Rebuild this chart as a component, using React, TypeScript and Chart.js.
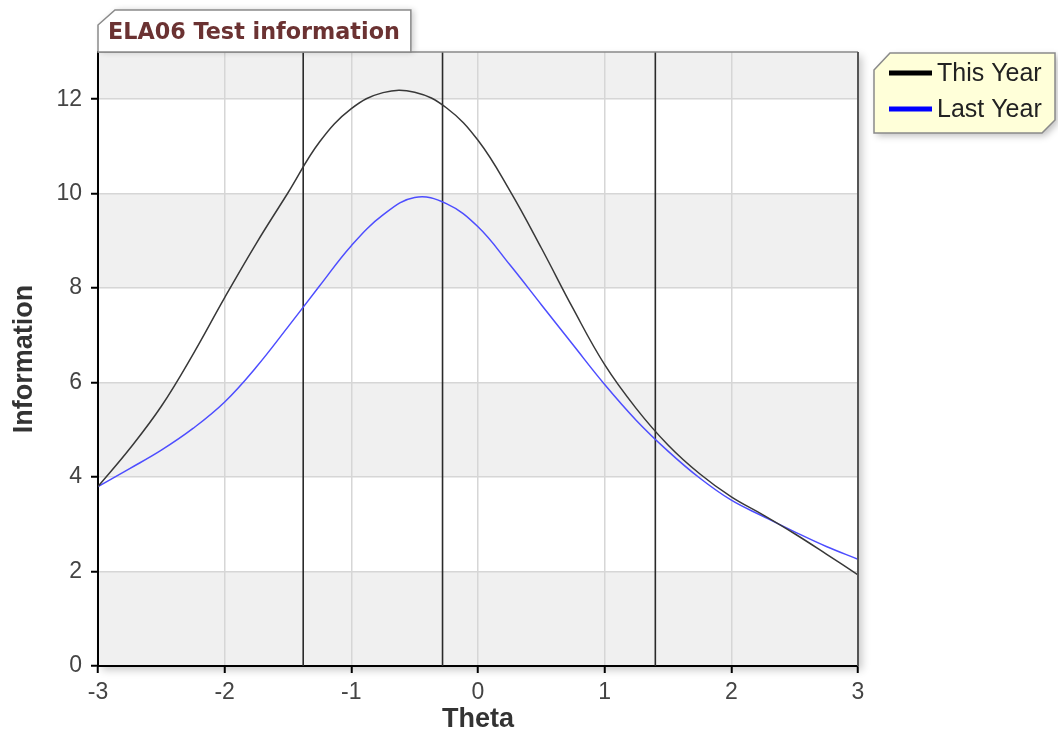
import { useEffect, useRef } from 'react';
import { Chart, registerables } from 'chart.js';

Chart.register(...registerables);

const chartTitle = 'ELA06 Test information';
const xTitle = 'Theta';
const yTitle = 'Information';
const seriesNames = ['This Year', 'Last Year'];
const seriesColors = ['#383838', '#4d4dff'];
const legendColors = ['#000000', '#0000ff'];

const thetaPoints = [
  -3, -2.75, -2.5, -2.25, -2, -1.75, -1.5, -1.25, -1, -0.75, -0.5, -0.25,
  0, 0.25, 0.5, 0.75, 1, 1.25, 1.5, 1.75, 2, 2.25, 2.5, 2.75, 3,
];
const thisYear = [
  3.8, 4.6, 5.5, 6.6, 7.8, 8.95, 10.02, 11.1, 11.8, 12.14, 12.15, 11.82,
  11.13, 10.07, 8.85, 7.57, 6.38, 5.45, 4.68, 4.07, 3.58, 3.2, 2.8, 2.37, 1.93,
];
const lastYear = [
  3.8, 4.18, 4.57, 5.03, 5.59, 6.33, 7.18, 8.05, 8.9, 9.55, 9.92, 9.79,
  9.3, 8.5, 7.65, 6.8, 5.96, 5.2, 4.55, 3.98, 3.51, 3.17, 2.84, 2.53, 2.26,
];
const cutScores = [-1.38, -0.28, 1.4];

const xMin = -3;
const xMax = 3;
const xStep = 1;
const yMin = 0;
const yMax = 13;
const yStep = 2;
const yTickMax = 12;

const backgroundPlugin = {
  id: 'bgBands',
  beforeDraw(chart: any) {
    const { ctx, chartArea: a, scales } = chart;
    const y = scales.y;
    ctx.save();
    ctx.fillStyle = '#ffffff';
    ctx.fillRect(0, 0, chart.width, chart.height);
    ctx.shadowColor = 'rgba(0,0,0,0.22)';
    ctx.shadowBlur = 8;
    ctx.shadowOffsetX = 4;
    ctx.shadowOffsetY = 4;
    ctx.fillRect(a.left, a.top, a.right - a.left, a.bottom - a.top);
    ctx.restore();
    ctx.save();
    let i = 0;
    for (let v = yMin; v < yMax; v += yStep) {
      const top = y.getPixelForValue(Math.min(v + yStep, yMax));
      const bot = y.getPixelForValue(v);
      ctx.fillStyle = i % 2 === 0 ? '#f0f0f0' : '#ffffff';
      ctx.fillRect(a.left, top, a.right - a.left, bot - top);
      i++;
    }
    ctx.restore();
  },
  afterDatasetsDraw(chart: any) {
    const { ctx, chartArea: a } = chart;
    ctx.save();
    ctx.strokeStyle = '#8a8a8a';
    ctx.lineWidth = 1.5;
    ctx.beginPath();
    ctx.moveTo(a.left, a.top);
    ctx.lineTo(a.right, a.top);
    ctx.stroke();
    ctx.strokeStyle = '#555555';
    ctx.lineWidth = 2;
    ctx.beginPath();
    ctx.moveTo(a.right, a.top);
    ctx.lineTo(a.right, a.bottom);
    ctx.stroke();
    ctx.restore();
  },
  afterDraw(chart: any) {
    const { ctx, chartArea: a } = chart;
    // title box
    ctx.save();
    ctx.font = 'bold 22.3px "DejaVu Sans"';
    const tw = ctx.measureText(chartTitle).width;
    const bl = a.left;
    const bb = a.top;
    const bt = 10;
    const br = bl + tw + 21;
    ctx.beginPath();
    ctx.moveTo(bl, bb);
    ctx.lineTo(bl, bt + 15);
    ctx.lineTo(bl + 17, bt);
    ctx.lineTo(br, bt);
    ctx.lineTo(br, bb);
    ctx.closePath();
    ctx.save();
    ctx.shadowColor = 'rgba(0,0,0,0.2)';
    ctx.shadowBlur = 6;
    ctx.shadowOffsetX = 3;
    ctx.shadowOffsetY = 0;
    ctx.fillStyle = '#ffffff';
    ctx.fill();
    ctx.restore();
    ctx.strokeStyle = '#8a8a8a';
    ctx.lineWidth = 1.5;
    ctx.stroke();
    ctx.fillStyle = '#6b3232';
    ctx.textBaseline = 'middle';
    ctx.textAlign = 'left';
    ctx.fillText(chartTitle, bl + 10, (bt + bb) / 2 + 2);
    ctx.restore();

    // legend box
    ctx.save();
    const L = 874, T = 53, R = 1055, B = 133;
    ctx.beginPath();
    ctx.moveTo(L, T + 17);
    ctx.lineTo(L + 16, T);
    ctx.lineTo(R, T);
    ctx.lineTo(R, B - 13);
    ctx.lineTo(R - 13, B);
    ctx.lineTo(L, B);
    ctx.closePath();
    ctx.save();
    ctx.shadowColor = 'rgba(0,0,0,0.25)';
    ctx.shadowBlur = 7;
    ctx.shadowOffsetX = 3;
    ctx.shadowOffsetY = 3;
    ctx.fillStyle = '#ffffd9';
    ctx.fill();
    ctx.restore();
    ctx.strokeStyle = '#8a8a8a';
    ctx.lineWidth = 1.5;
    ctx.stroke();
    ctx.font = '25px "Liberation Sans"';
    ctx.textBaseline = 'middle';
    ctx.textAlign = 'left';
    seriesNames.forEach((name, i) => {
      const cy = 73 + i * 36;
      ctx.strokeStyle = legendColors[i];
      ctx.lineWidth = 5;
      ctx.beginPath();
      ctx.moveTo(889, cy);
      ctx.lineTo(932, cy);
      ctx.stroke();
      ctx.fillStyle = '#222222';
      ctx.fillText(name, 937, cy + 1);
    });
    ctx.restore();
  },
};

export default function App() {
  const ref = useRef<HTMLCanvasElement | null>(null);

  useEffect(() => {
    if (!ref.current) return;
    const cutSets = cutScores.map((c) => ({
      label: '',
      data: [
        { x: c, y: yMin },
        { x: c, y: yMax },
      ],
      borderColor: '#2a2a2a',
      borderWidth: 1.6,
      pointRadius: 0,
      tension: 0,
    }));
    const chart = new Chart(ref.current, {
      type: 'line',
      data: {
        datasets: [
          {
            label: seriesNames[0],
            data: thetaPoints.map((t, i) => ({ x: t, y: thisYear[i] })),
            borderColor: seriesColors[0],
            borderWidth: 1.5,
            pointRadius: 0,
            tension: 0.4,
          },
          {
            label: seriesNames[1],
            data: thetaPoints.map((t, i) => ({ x: t, y: lastYear[i] })),
            borderColor: seriesColors[1],
            borderWidth: 1.5,
            pointRadius: 0,
            tension: 0.4,
          },
          ...cutSets,
        ],
      } as any,
      options: {
        animation: false,
        responsive: false,
        devicePixelRatio: 1,
        layout: { padding: { left: 0, top: 52, right: 200, bottom: 0 } },
        plugins: {
          legend: { display: false },
          title: { display: false },
          tooltip: { enabled: false },
        },
        scales: {
          x: {
            type: 'linear',
            min: xMin,
            max: xMax,
            ticks: {
              stepSize: xStep,
              color: '#444444',
              font: { family: 'Liberation Sans', size: 23 },
              padding: 6,
            },
            grid: {
              color: '#d6d6d6',
              lineWidth: 1.5,
              tickColor: '#000000',
              tickLength: 7,
              tickWidth: 2,
            },
            border: { color: '#000000', width: 2 },
            title: {
              display: true,
              text: xTitle,
              color: '#333333',
              font: { family: 'Liberation Sans', size: 27, weight: 'bold', lineHeight: 1.2 },
              padding: { top: 0, bottom: 0 },
            },
            afterFit: (s: any) => {
              s.height = 70;
            },
          },
          y: {
            type: 'linear',
            min: yMin,
            max: yMax,
            ticks: {
              stepSize: yStep,
              color: '#444444',
              font: { family: 'Liberation Sans', size: 23 },
              padding: 9,
            },
            afterBuildTicks: (s: any) => {
              s.ticks = s.ticks.filter((t: any) => t.value <= yTickMax);
            },
            grid: {
              color: '#d6d6d6',
              lineWidth: 1.5,
              tickColor: '#000000',
              tickLength: 7,
              tickWidth: 2,
            },
            border: { color: '#000000', width: 2 },
            title: {
              display: true,
              text: yTitle,
              color: '#333333',
              font: { family: 'Liberation Sans', size: 27, weight: 'bold', lineHeight: 1.2 },
              padding: { top: 8, bottom: 0 },
            },
            afterFit: (s: any) => {
              s.width = 98;
            },
          },
        },
      } as any,
      plugins: [backgroundPlugin],
    });
    return () => chart.destroy();
  }, []);

  return (
    <div style={{ position: 'fixed', left: 0, top: 0, width: 1058, height: 736, background: '#fff' }}>
      <canvas ref={ref} width={1058} height={736} style={{ display: 'block' }} />
    </div>
  );
}
